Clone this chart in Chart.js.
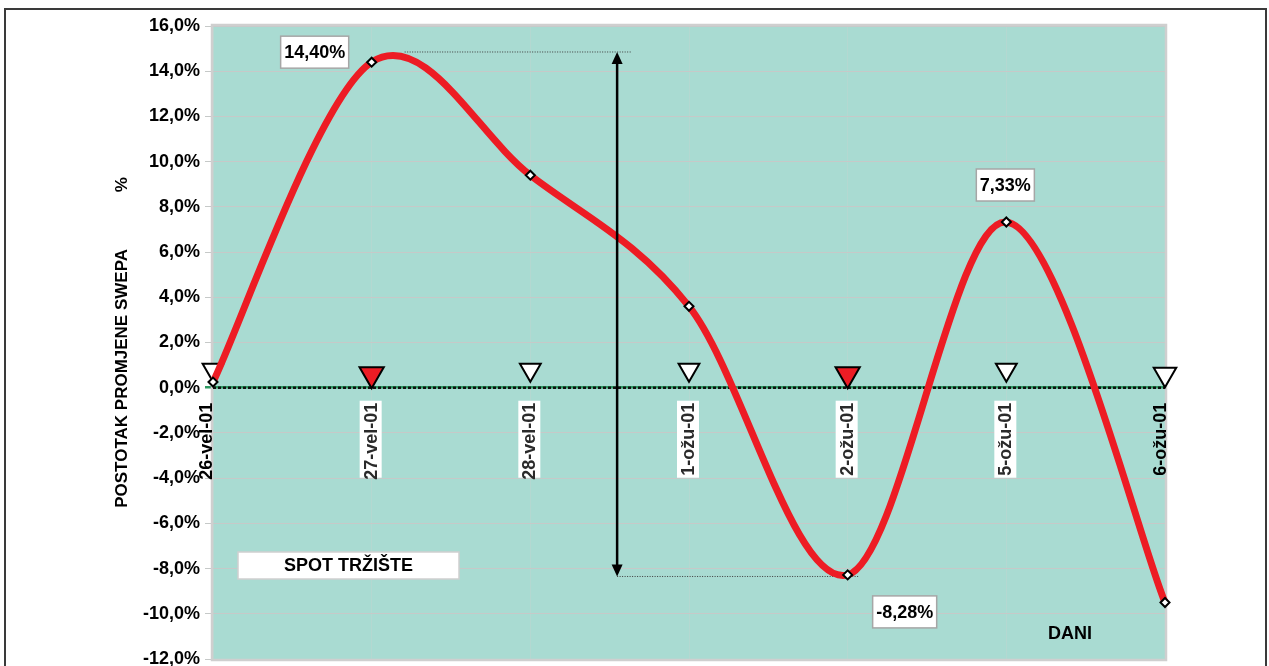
<!DOCTYPE html>
<html lang="hr">
<head>
<meta charset="utf-8">
<title>Postotak promjene swepa</title>
<script src="https://cdn.jsdelivr.net/npm/chart.js@4/dist/chart.umd.min.js"></script>
<style>
  html, body { margin: 0; padding: 0; background: #fff; }
  canvas { display: block; }
</style>
</head>
<body>
<canvas id="swapChart" width="1269" height="666"></canvas>
<script>
// dani trgovanja i promjena swepa u %
const dani = ['26-vel-01', '27-vel-01', '28-vel-01', '1-ožu-01', '2-ožu-01', '5-ožu-01', '6-ožu-01'];
const promjena = [0.25, 14.40, 9.40, 3.60, -8.28, 7.33, -9.50];

// trokuti iznad nulte linije (crveni = signal)
const razinaSignala = [0.8, 0.6, 0.8, 0.8, 0.6, 0.8, 0.6];
const crveniSignal = [false, true, false, false, true, false, false];
const nula = [0, 0, 0, 0, 0, 0, 0];

// točke s ispisanom vrijednosti
const oznaceniDani = [1, 4, 5];

// raspon krivulje (strelica)
const rasponGore = 14.85;
const rasponDolje = -8.35;

const FONT = '"Liberation Sans", Arial, sans-serif';
Chart.defaults.font.family = FONT;
Chart.defaults.color = '#000';

const fmtPosto = (v, d) => v.toFixed(d).replace('.', ',') + '%';

// os bez dodatnog razmaka oko oznaka
const bezRazmaka = s => {
    s.paddingTop = s.paddingBottom = s.paddingLeft = s.paddingRight = 0;
};

const ukrasi = {
    id: 'ukrasi',
    beforeDraw(chart) {
        const {ctx, chartArea: a} = chart;
        ctx.save();
        ctx.fillStyle = '#fff';
        ctx.fillRect(0, 0, chart.width, chart.height);
        ctx.strokeStyle = '#3a3a3a';
        ctx.lineWidth = 2;
        ctx.strokeRect(5, 9, chart.width - 8, chart.height + 20);
        ctx.fillStyle = '#a9dbd2';
        ctx.fillRect(a.left, a.top, a.right - a.left, a.bottom - a.top);
        ctx.restore();
    },
    beforeDatasetsDraw(chart) {
        const {ctx, chartArea: a} = chart;
        const xs = chart.scales.x, ys = chart.scales.y;
        const y0 = ys.getPixelForValue(0);
        ctx.save();
        ctx.strokeStyle = '#cfcfcf';
        ctx.lineWidth = 2.5;
        ctx.strokeRect(a.left - 1, a.top - 1, a.right - a.left + 2, a.bottom - a.top + 2);

        // oznake dana, okomito ispod nule
        ctx.font = 'bold 18px ' + FONT;
        dani.forEach((d, i) => {
            let x = xs.getPixelForValue(i);
            const rub = i === 0 || i === dani.length - 1;
            ctx.save();
            if (rub) {
                x -= i === 0 ? 7 : 5;
                ctx.fillStyle = '#000';
            } else {
                x -= 1;
                ctx.fillStyle = '#fff';
                ctx.fillRect(x - 11, y0 + 13, 22, 77);
                ctx.filter = 'blur(0.7px)';
                ctx.fillStyle = '#2a2a2a';
            }
            ctx.translate(x, y0 + 15);
            ctx.rotate(-Math.PI / 2);
            ctx.textAlign = 'right';
            ctx.textBaseline = 'middle';
            ctx.fillText(d, 0, 1);
            ctx.restore();
        });

        // točkaste linije na vrhu i dnu raspona
        const tocke = chart.getDatasetMeta(0).data;
        const x2 = xs.getPixelForValue(2), x3 = xs.getPixelForValue(3);
        const xStrelica = x2 + 0.547 * (x3 - x2);
        const yGore = ys.getPixelForValue(rasponGore), yDolje = ys.getPixelForValue(rasponDolje);
        ctx.strokeStyle = '#3c3c3c';
        ctx.lineWidth = 1;
        ctx.setLineDash([1, 1.5]);
        ctx.beginPath();
        ctx.moveTo(tocke[1].x + 33, yGore);
        ctx.lineTo(xStrelica + 14, yGore);
        ctx.moveTo(xStrelica, yDolje);
        ctx.lineTo(tocke[4].x + 11, yDolje);
        ctx.stroke();
        ctx.restore();
    },
    beforeDatasetDraw(chart, args) {
        // zaglađivanje kao Catmull-Rom: kontrolne točke = susjedi / 6
        if (args.index !== 0) return;
        const line = args.meta.dataset;
        line.updateControlPoints(chart.chartArea, 'x');
        const p = args.meta.data;
        p.forEach((t, i) => {
            const a = p[Math.max(i - 1, 0)], b = p[Math.min(i + 1, p.length - 1)];
            const dx = (b.x - a.x) / 6, dy = (b.y - a.y) / 6;
            t.cp1x = t.x - dx; t.cp1y = t.y - dy;
            t.cp2x = t.x + dx; t.cp2y = t.y + dy;
        });
    },
    afterDatasetsDraw(chart) {
        const {ctx, chartArea: a} = chart;
        const xs = chart.scales.x, ys = chart.scales.y;
        const tocke = chart.getDatasetMeta(0).data;
        const x2 = xs.getPixelForValue(2), x3 = xs.getPixelForValue(3);
        const xStrelica = x2 + 0.547 * (x3 - x2);
        const yGore = ys.getPixelForValue(rasponGore), yDolje = ys.getPixelForValue(rasponDolje);
        ctx.save();

        // dvostrana strelica
        ctx.strokeStyle = '#000';
        ctx.lineWidth = 2.5;
        ctx.beginPath();
        ctx.moveTo(xStrelica, yGore + 10);
        ctx.lineTo(xStrelica, yDolje - 10);
        ctx.stroke();
        ctx.fillStyle = '#000';
        [[yGore, 1], [yDolje, -1]].forEach(([y, s]) => {
            ctx.beginPath();
            ctx.moveTo(xStrelica, y);
            ctx.lineTo(xStrelica - 5.5, y + s * 12);
            ctx.lineTo(xStrelica + 5.5, y + s * 12);
            ctx.closePath();
            ctx.fill();
        });

        // vrijednosti uz odabrane točke
        const pomaci = {1: [-57, -10], 4: [57, 37], 5: [-1, -37]};
        ctx.font = 'bold 18px ' + FONT;
        ctx.textAlign = 'center';
        ctx.textBaseline = 'middle';
        oznaceniDani.forEach(i => {
            const t = tocke[i];
            const tekst = fmtPosto(promjena[i], 2);
            const w = ctx.measureText(tekst).width + 7, h = 32;
            const cx = t.x + pomaci[i][0], cy = t.y + pomaci[i][1];
            ctx.fillStyle = '#fff';
            ctx.fillRect(cx - w / 2, cy - h / 2, w, h);
            ctx.strokeStyle = '#a6a6a6';
            ctx.lineWidth = 1.5;
            ctx.strokeRect(cx - w / 2, cy - h / 2, w, h);
            ctx.fillStyle = '#000';
            ctx.fillText(tekst, cx, cy + 1);
        });

        // natpis tržišta
        ctx.fillStyle = '#fff';
        ctx.fillRect(a.left + 25, a.bottom - 107, 221, 27);
        ctx.strokeStyle = '#cfcfcf';
        ctx.lineWidth = 1.5;
        ctx.strokeRect(a.left + 25, a.bottom - 107, 221, 27);
        ctx.fillStyle = '#000';
        ctx.fillText('SPOT TRŽIŠTE', a.left + 135.5, a.bottom - 92.5);

        // naziv osi x
        ctx.fillText('DANI', a.right - 95, a.bottom - 25);
        ctx.restore();
    }
};

new Chart(document.getElementById('swapChart'), {
    type: 'line',
    data: {
        labels: dani,
        datasets: [{
            label: 'Promjena swepa',
            data: promjena,
            borderColor: '#ed1c24',
            borderWidth: 7,
            borderCapStyle: 'round',
            tension: 0.4,
            pointStyle: 'rectRot',
            pointRadius: 4.5,
            pointBackgroundColor: '#fff',
            pointBorderColor: '#000',
            pointBorderWidth: 2,
            clip: false
        }, {
            label: 'Signal',
            data: razinaSignala,
            showLine: false,
            pointStyle: 'triangle',
            pointRotation: 180,
            pointRadius: c => crveniSignal[c.dataIndex] ? 14 : (c.dataIndex === dani.length - 1 ? 13 : 12),
            pointBackgroundColor: crveniSignal.map(s => s ? '#ed1c24' : '#fff'),
            pointBorderColor: '#000',
            pointBorderWidth: 2,
            clip: false
        }, {
            label: 'Nula',
            data: nula,
            borderColor: '#111',
            borderWidth: 2.5,
            borderDash: [3, 2],
            pointRadius: 0,
            tension: 0
        }]
    },
    options: {
        responsive: false,
        animation: false,
        events: [],
        layout: { autoPadding: false, padding: { left: 100, top: 26, right: 104, bottom: 7 } },
        plugins: {
            legend: { display: false },
            tooltip: { enabled: false }
        },
        scales: {
            x: {
                offset: false,
                ticks: { display: false },
                grid: { color: 'rgba(205, 210, 210, 0.3)', drawTicks: false },
                border: { display: false },
                afterFit: s => { s.height = 0; bezRazmaka(s); }
            },
            y: {
                min: -12,
                max: 16,
                ticks: {
                    stepSize: 2,
                    padding: 5,
                    font: { size: 18, weight: 'bold' },
                    callback: v => fmtPosto(v, 1)
                },
                grid: {
                    color: c => c.tick && c.tick.value === 0 ? '#2f9a63' : '#c6c9c8',
                    lineWidth: c => c.tick && c.tick.value === 0 ? 2.5 : 1,
                    tickLength: 8
                },
                border: { display: false },
                title: {
                    display: true,
                    text: 'POSTOTAK PROMJENE SWEPA' + ' '.repeat(12) + '%',
                    font: { size: 17, weight: 'bold' },
                    padding: { top: 12, bottom: 0 }
                },
                afterFit: s => { s.width = 113; bezRazmaka(s); }
            }
        }
    },
    plugins: [ukrasi]
});
</script>
</body>
</html>
